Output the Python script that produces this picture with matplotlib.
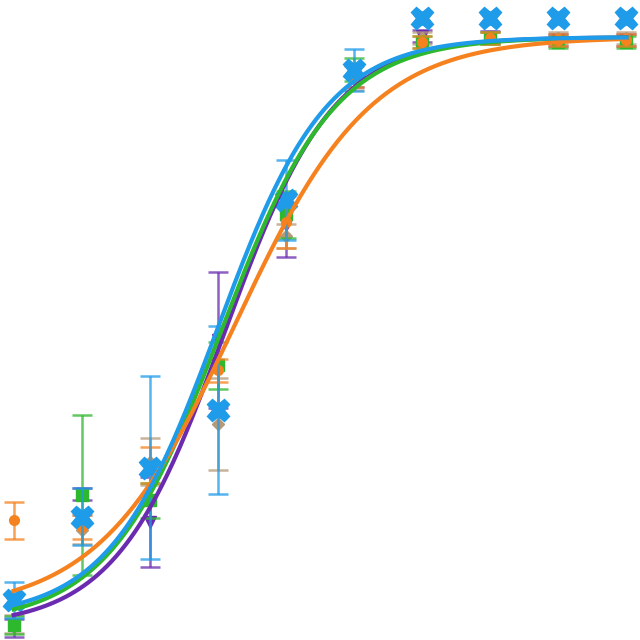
import numpy as np
import matplotlib
matplotlib.use("Agg")
import matplotlib.pyplot as plt

doses = list(range(10))

# series values (response, %) and errors
purple_y = [0.3, 23.0, 18.3, 49.2, 68.6, 94.0, 100.7, 100.5, 100.0, 100.0]
purple_e = [1.5, 1.0, 7.6, 11.5, 5.4, 2.0, 1.0, 1.0, 1.0, 1.0]
green_y = [0.8, 22.9, 22.0, 44.9, 70.5, 95.0, 99.7, 100.3, 99.7, 99.7]
green_e = [1.5, 13.5, 3.0, 4.0, 4.0, 2.0, 1.0, 1.0, 1.0, 1.0]
orange_y = [18.6, 17.5, 28.0, 44.0, 69.2, 94.0, 99.7, 100.3, 100.0, 100.0]
orange_e = [3.1, 2.0, 3.0, 2.0, 4.4, 2.0, 1.0, 1.0, 1.0, 1.0]
tan_y = [1.0, 17.0, 28.5, 34.9, 66.8, 93.6, 100.3, 100.3, 100.3, 100.3]
tan_e = [1.5, 2.5, 4.0, 7.8, 2.0, 2.0, 1.0, 1.0, 1.0, 1.0]
blue_y = [5.1, 19.2, 27.5, 37.3, 72.9, 94.9, 103.7, 103.7, 103.7, 103.7]
blue_e = [3.0, 4.8, 15.5, 14.2, 6.8, 3.6, 1.0, 1.0, 1.0, 1.0]

# logistic fit parameters: bottom, top, midpoint, slope
purple_fit = [0.5, 100.5, 3.1, 1.25]
green_fit = [1.0, 100.5, 3.05, 1.2]
orange_fit = [3.0, 100.5, 3.25, 1.0]
blue_fit = [2.0, 100.5, 3.0, 1.25]

C_PURPLE = "#6a2bb0"
C_GREEN = "#2eb82e"
C_ORANGE = "#f5821f"
C_TAN = "#b59a7a"
C_BLUE = "#1e9be9"

fig = plt.figure(figsize=(6.4, 6.4), dpi=100)
ax = fig.add_axes([0, 0, 1, 1])
ax.set_xlim(-0.2, 9.2)
ax.set_ylim(-1.7, 106.8)
ax.axis("off")

xs = np.linspace(0, 9, 400)

def logistic(p, x):
    b, t, m, k = p
    return b + (t - b) / (1 + np.exp(-k * (x - m)))

def series(y, e, color, marker, ms, z):
    ax.errorbar(doses, y, yerr=e, fmt="none", ecolor=color, alpha=0.75,
                elinewidth=1.8, capsize=7, capthick=1.8, zorder=z)
    ax.plot(doses, y, linestyle="none", marker=marker, ms=ms, color=color,
            markeredgecolor=color, zorder=z + 0.5)

series(purple_y, purple_e, C_PURPLE, "v", 9, 2)
series(tan_y, tan_e, C_TAN, "D", 6, 2.5)
series(green_y, green_e, C_GREEN, "s", 9, 3)
series(orange_y, orange_e, C_ORANGE, "o", 7, 4)
series(blue_y, blue_e, C_BLUE, "X", 16, 6)

ax.plot(xs, logistic(purple_fit, xs), color=C_PURPLE, lw=3, zorder=7)
ax.plot(xs, logistic(green_fit, xs), color=C_GREEN, lw=3, zorder=7.1)
ax.plot(xs, logistic(orange_fit, xs), color=C_ORANGE, lw=3, zorder=7.2)
ax.plot(xs, logistic(blue_fit, xs), color=C_BLUE, lw=3, zorder=7.3)

fig.savefig("out.png", dpi=100)
